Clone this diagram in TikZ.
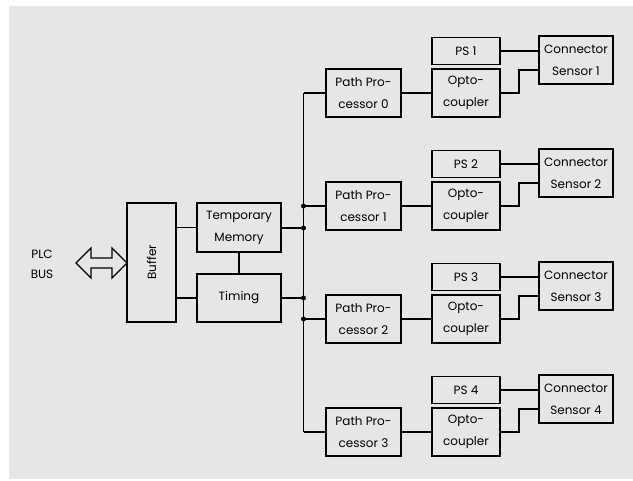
\documentclass[tikz,border=0pt]{standalone}
\usepackage{fontspec}
\setmainfont{Poppins}
\definecolor{bgc}{HTML}{E6E6E6}
\begin{document}
\begin{tikzpicture}[x=1pt,y=-1pt,
  every node/.style={font=\fontsize{12}{22}\selectfont, inner sep=0pt},
  blk/.style={draw, line width=1.3pt, align=center},
  wire/.style={line width=1.3pt},
  dot/.style={circle, fill=black, minimum size=5pt, inner sep=0pt}]
\useasboundingbox (0,0) rectangle (633,481);
\fill[bgc] (9,6) rectangle (633,479);
% left part
\node[align=center, font=\fontsize{12}{20}\selectfont] (plc) at (42,264) {PLC\\BUS};
\node[blk, minimum width=49pt, minimum height=119pt] (buf) at (151.5,262.5) {};
\node[rotate=90] (buftxt) at (buf.center) {Buffer};
\node[blk, minimum width=84pt, minimum height=49pt] (tm) at (239,227.5) {Temporary\\Memory};
\node[blk, minimum width=84pt, minimum height=48pt] (tim) at (239,298) {Timing};
\draw[line width=1.3pt, line join=miter] (76,263) -- (91,248) -- (91,258) -- (112,258) -- (112,248) -- (127,263)
  -- (112,278) -- (112,268) -- (91,268) -- (91,278) -- cycle;
\draw[wire] (buf.east |- tm) -- (tm.west);
\draw[wire] (buf.east |- tim) -- (tim.west);
\draw[wire] (tm.south) -- (tim.north);
\coordinate (bt) at (303.5,93);
\coordinate (bb) at (303.5,432);
\draw[wire] (bt) -- (bb);
\node[dot] (d1) at (303.5,228) {};
\node[dot] (d2) at (303.5,298) {};
\node[dot] (d3) at (303.5,206) {};
\node[dot] (d4) at (303.5,319) {};
\draw[wire] (tm.east |- d1) -- (d1);
\draw[wire] (tim.east |- d2) -- (d2);
% rows
\foreach \i in {0,1,2,3}{
  \pgfmathsetmacro{\yc}{93+113*\i}
  \pgfmathtruncatemacro{\n}{\i+1}
  \node[blk, minimum width=75pt, minimum height=48pt] (pp\i) at (363.5,\yc) {Path Pro-\\cessor \i};
  \node[blk, minimum width=68pt, minimum height=48pt] (op\i) at (466,\yc) {Opto-\\coupler};
  \node[blk, minimum width=68pt, minimum height=27pt] (ps\i) at (466,\yc-42) {PS \n};
  \node[blk, minimum width=74pt, minimum height=48pt] (cs\i) at (576,\yc-33) {Connector\\Sensor \n};
  \coordinate (bj\i) at (303.5,\yc);
  \draw[wire] (bj\i) -- (pp\i.west);
  \draw[wire] (pp\i.east) -- (op\i.west);
  \draw[wire] (ps\i.east) -- (cs\i.west |- ps\i.east);
  \draw[wire] (op\i.east) -- (519,\yc) -- (519,\yc-23) -- (cs\i.west |- 0,\yc-23);
}
\end{tikzpicture}
\end{document}
